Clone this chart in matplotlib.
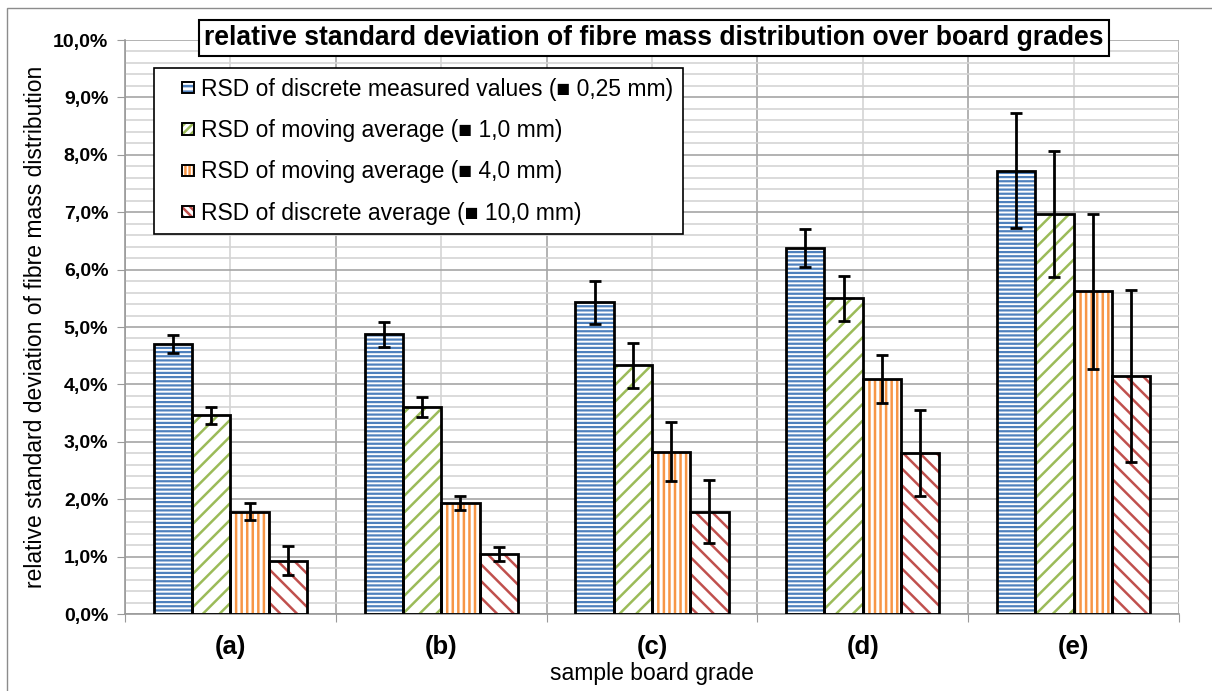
import matplotlib
matplotlib.use('Agg')
import matplotlib.pyplot as plt
import numpy as np
from matplotlib.patches import Rectangle
from matplotlib import font_manager

# Data (RSD in %)
grades = ['(a)', '(b)', '(c)', '(d)', '(e)']
series_labels = ['RSD of discrete measured values (\u25a0 0,25 mm)',
                 'RSD of moving average (\u25a0 1,0 mm)',
                 'RSD of moving average (\u25a0 4,0 mm)',
                 'RSD of discrete average (\u25a0 10,0 mm)']
rsd_025 = [4.70, 4.87, 5.43, 6.37, 7.72]
rsd_1 = [3.46, 3.61, 4.33, 5.50, 6.97]
rsd_4 = [1.78, 1.93, 2.83, 4.10, 5.62]
rsd_10 = [0.93, 1.05, 1.78, 2.80, 4.15]
err_025 = [0.16, 0.21, 0.38, 0.33, 1.00]
err_1 = [0.15, 0.17, 0.40, 0.39, 1.10]
err_4 = [0.15, 0.12, 0.51, 0.42, 1.35]
err_10 = [0.25, 0.12, 0.55, 0.75, 1.50]
ytick_labels = ['0,0%', '1,0%', '2,0%', '3,0%', '4,0%', '5,0%',
                '6,0%', '7,0%', '8,0%', '9,0%', '10,0%']

values = [rsd_025, rsd_1, rsd_4, rsd_10]
errors = [err_025, err_1, err_4, err_10]
colors = ['#4F81BD', '#9BBB59', '#F79646', '#C0504D']
hatches = ['----', '//', '|||', '\\\\']
legend_hatches = ['---', '////', '||||', '\\\\\\\\']
hatch_lw = [1.6, 1.8, 1.8, 1.8]

names = {f.name for f in font_manager.fontManager.ttflist}
base = 'Liberation Sans' if 'Liberation Sans' in names else 'DejaVu Sans'
narrow = 'Liberation Sans Narrow' if 'Liberation Sans Narrow' in names else base
plt.rcParams['font.family'] = [base, 'DejaVu Sans']


class SquareHandler:
    """small hatched square with a black outline, drawn at the right of the handle box"""
    def legend_artist(self, legend, orig_handle, fontsize, handlebox):
        color, hatch = orig_handle
        size = 0.5 * fontsize
        x0 = handlebox.width - size - handlebox.xdescent
        y0 = (handlebox.height - size) / 2 - handlebox.ydescent
        fill = Rectangle((x0, y0), size, size, facecolor='white', edgecolor=color,
                         hatch=hatch, linewidth=0, transform=handlebox.get_transform())
        edge = Rectangle((x0, y0), size, size, fill=False, edgecolor='black',
                         linewidth=1.4, transform=handlebox.get_transform())
        handlebox.add_artist(fill)
        handlebox.add_artist(edge)
        return edge


class Key:
    def __init__(self, color, hatch):
        self.color = color
        self.hatch = hatch

    def __iter__(self):
        return iter((self.color, self.hatch))


fig = plt.figure(figsize=(12.12, 6.91), dpi=100)
ax = fig.add_axes([0.1031, 0.1114, 0.8697, 0.8307])

x = np.arange(len(grades))
w = 1 / 5.5
keys = []
for i in range(4):
    pos = x + (i - 1.5) * w
    plt.rcParams['hatch.linewidth'] = hatch_lw[i]
    ax.bar(pos, values[i], w, facecolor='white', edgecolor=colors[i],
           hatch=hatches[i], linewidth=0, zorder=2)
    ax.bar(pos, values[i], w, fill=False, edgecolor='black', linewidth=2, zorder=3)
    ax.errorbar(pos, values[i], yerr=errors[i], fmt='none', ecolor='black',
                elinewidth=2, capsize=4, capthick=2, zorder=4)
    keys.append(Key(colors[i], legend_hatches[i]))
plt.rcParams['hatch.linewidth'] = 1.8

ax.set_xlim(-0.5, 4.5)
ax.set_ylim(0, 10)
ax.set_yticks(np.arange(0, 11, 1))
ax.set_yticklabels(ytick_labels, fontsize=14, fontweight='bold')
ax.set_yticks(np.arange(0, 10.01, 0.2), minor=True)
ax.set_xticks(np.arange(-0.5, 5, 1))
ax.set_xticklabels([])
ax.set_xticks(x, minor=True)
ax.set_xticklabels(grades, minor=True, fontsize=18.5, fontweight='bold')
ax.tick_params(axis='x', which='minor', length=0, pad=15)
ax.tick_params(axis='x', which='major', length=6, color='#999999')
ax.tick_params(axis='y', which='major', length=6, color='#999999', pad=6)
ax.tick_params(axis='y', which='minor', length=0)

ax.grid(True, which='major', color='#a6a6a6', linewidth=1.2, zorder=0)
ax.grid(True, which='minor', color='#d4d4d4', linewidth=1.2, zorder=0)
ax.set_axisbelow(True)
for s in ['top', 'right']:
    ax.spines[s].set_visible(False)
for s in ['left', 'bottom']:
    ax.spines[s].set_color('#999999')
    ax.spines[s].set_linewidth(1.2)

ax.set_ylabel('relative standard deviation of fibre mass distribution', fontsize=16.5, labelpad=4)
ax.set_xlabel('sample board grade', fontsize=16.5, labelpad=2)

leg = ax.legend(keys, series_labels, handler_map={Key: SquareHandler()},
                loc='upper left', bbox_to_anchor=(0.028, 0.951), borderaxespad=0,
                fontsize=16.5, fancybox=False, edgecolor='black', framealpha=1,
                handlelength=1.3, handleheight=0.7, handletextpad=0.3,
                labelspacing=0.8, borderpad=0.42)
leg.get_frame().set_linewidth(1.2)
leg.set_zorder(10)

fig.text(0.5395, 0.945, 'relative standard deviation of fibre mass distribution over board grades',
         ha='center', va='center', fontsize=19.1, fontweight='bold', family=[narrow, 'DejaVu Sans'],
         bbox=dict(boxstyle='square,pad=0.2', facecolor='white', edgecolor='black', linewidth=1.5),
         zorder=20)

fig.patches.append(Rectangle((7 / 1212, -0.02), 1.02, 1.02 - 8 / 691, transform=fig.transFigure,
                             fill=False, edgecolor='#8c8c8c', linewidth=1))

fig.savefig('out.png', dpi=100)
